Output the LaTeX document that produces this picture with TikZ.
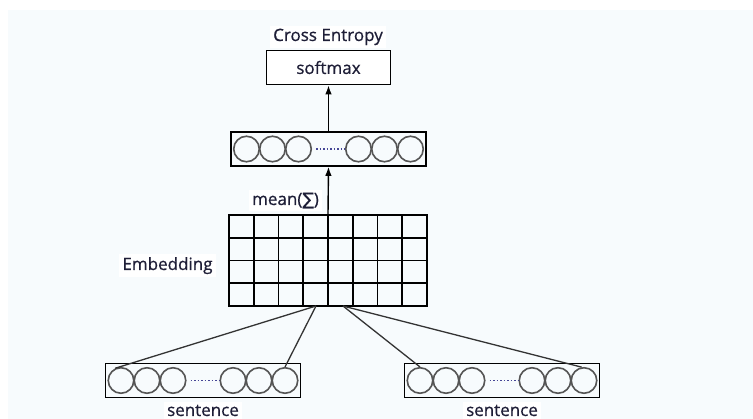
\documentclass[tikz,border=0pt]{standalone}
\usepackage{fontspec}
\setmainfont{Open Sans}
\newfontfamily\lblfont{Open Sans}[FakeBold=0.7]
\newfontfamily\sumfont{DejaVu Sans}[FakeBold=0.5]
\usepackage{tikz}
\usetikzlibrary{arrows.meta, positioning}

\definecolor{bgblue}{RGB}{247,251,253}
\definecolor{inkgray}{RGB}{85,85,85}
\definecolor{dotblue}{RGB}{70,70,150}
\definecolor{txtdark}{RGB}{30,30,55}

\tikzset{
  lbl/.style={fill=white, text=txtdark, font=\lblfont\fontsize{17}{20}\selectfont, inner sep=3pt},
  layerbox/.style={draw, line width=1.6pt, minimum width=195, minimum height=34, inner sep=0pt},
  unit/.style={circle, draw=inkgray, line width=1.6pt, minimum size=25.5, inner sep=0pt},
  arr/.style={line width=1.4pt, -{Latex[length=9pt, width=6.5pt]}},
  link/.style={line width=1.3pt, black!80}
}

\begin{document}
\begin{tikzpicture}[x=1pt, y=-1pt]
\useasboundingbox (0,0) rectangle (753,419);
\fill[white] (0,0) rectangle (753,419);
\fill[bgblue] (8,10) rectangle (753,419);

% softmax on top
\node[lbl, anchor=base] (ce) at (328,41) {Cross Entropy};
\node[draw, fill=white, line width=1.6pt, minimum width=124, minimum height=34, text=txtdark,
      font=\lblfont\fontsize{17}{20}\selectfont] (soft) at (328.5,67.5) {softmax};

% hidden layer and the two sentences
\foreach \lay/\cx/\cy in {hid/328.5/149, s1/203/380.5, s2/502/380.5} {
  \node[layerbox] (\lay) at (\cx,\cy) {};
  \foreach \i/\dx in {1/-82, 2/-56, 3/-30, 4/30, 5/56, 6/82}
    \node[unit] (\lay-\i) at (\cx+\dx,\cy) {};
  \draw[dotblue, dotted, line width=1.5pt, shorten <=4pt] (\lay-3.east) -- (\lay-4.west);
}

% embedding matrix
\node[draw, line width=1.6pt, minimum width=198, minimum height=91, inner sep=0pt] (emb) at (328,260.5) {};
\foreach \i in {1,...,7}
  \draw[line width=1.6pt] (229+\i*24.75,215) -- (229+\i*24.75,306);
\foreach \j in {1,2,3}
  \draw[line width=1.6pt] (229,215+\j*22.75) -- (427,215+\j*22.75);
\coordinate (emb-l) at (316,306);
\coordinate (emb-r) at (343,306);

% labels
\node[lbl, anchor=base] (mean) at (285.5,205) {mean({\sumfont ∑})};
\node[lbl, anchor=base] (embtxt) at (167.5,270) {Embedding};
\node[lbl, anchor=base] (sen1) at (203,416) {sentence};
\node[lbl, anchor=base] (sen2) at (502,416) {sentence};

% connections
\draw[arr] (emb.north) -- (hid.south);
\draw[arr] (hid.north) -- (soft.south);
\draw[link] (emb-l) -- (s1-1.115);
\draw[link] (emb-l) -- (s1-6.north);
\draw[link] (emb-r) -- (s2-1.north);
\draw[link] (emb-r) -- (s2-6.100);
\end{tikzpicture}
\end{document}
